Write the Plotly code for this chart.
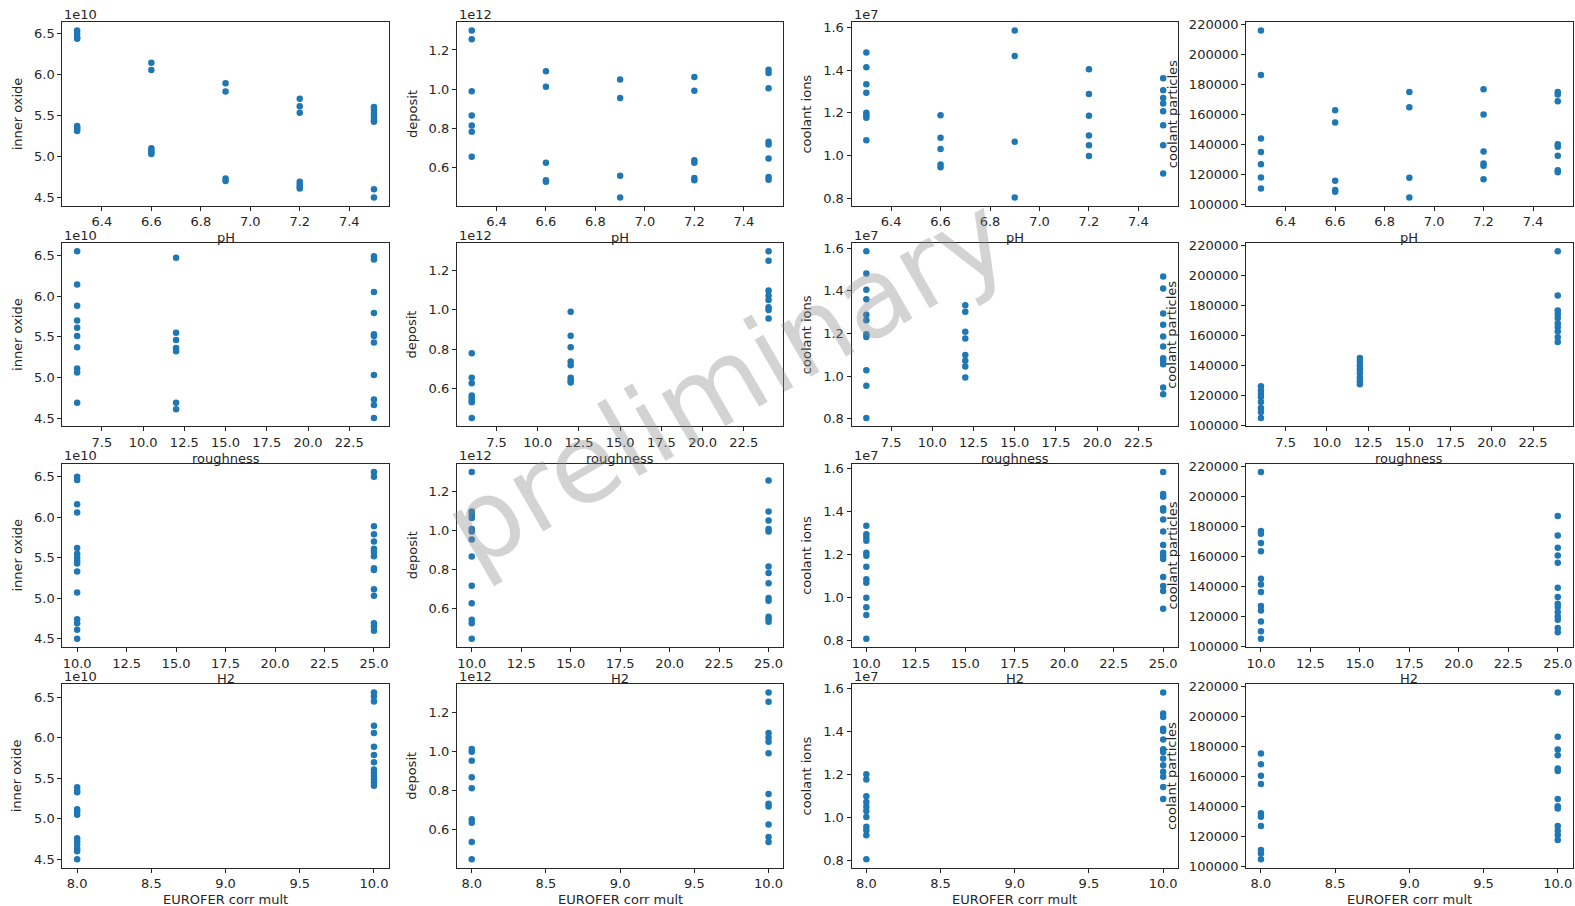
import plotly.graph_objects as go

# ---------------- data ----------------
ph_levels = [6.3, 6.6, 6.9, 7.2, 7.5]
roughness_levels = [6, 12, 24]
h2_levels = [10, 25]
eurofer_levels = [8, 10]

input_names = ["pH", "roughness", "H2", "EUROFER corr mult"]
output_names = ["inner oxide", "deposit", "coolant ions", "coolant particles"]
output_scales = [1e10, 1e12, 1e7, 1]
output_offset_labels = ["1e10", "1e12", "1e7", ""]

# values grouped by the level of the input variable
inner_oxide_by_ph = [
    [6.53e10, 6.49e10, 6.45e10, 6.43e10, 5.37e10, 5.35e10, 5.33e10, 5.31e10],
    [6.14e10, 6.05e10, 5.10e10, 5.07e10, 5.05e10, 5.03e10],
    [5.89e10, 5.79e10, 4.73e10, 4.70e10],
    [5.70e10, 5.61e10, 5.53e10, 4.69e10, 4.66e10, 4.63e10, 4.61e10],
    [5.60e10, 5.57e10, 5.53e10, 5.50e10, 5.47e10, 5.44e10, 5.42e10, 4.60e10, 4.50e10],
]
deposit_by_ph = [
    [1.299e12, 1.255e12, 0.990e12, 0.865e12, 0.814e12, 0.783e12, 0.655e12],
    [1.092e12, 1.012e12, 0.624e12, 0.535e12, 0.527e12],
    [1.050e12, 0.955e12, 0.558e12, 0.447e12],
    [1.062e12, 0.992e12, 0.637e12, 0.624e12, 0.547e12, 0.535e12],
    [1.099e12, 1.082e12, 1.005e12, 0.731e12, 0.718e12, 0.646e12, 0.552e12, 0.538e12],
]
coolant_ions_by_ph = [
    [1.483e7, 1.414e7, 1.334e7, 1.294e7, 1.200e7, 1.189e7, 1.177e7, 1.072e7],
    [1.189e7, 1.083e7, 1.031e7, 0.958e7, 0.945e7],
    [1.586e7, 1.467e7, 1.064e7, 0.803e7],
    [1.405e7, 1.289e7, 1.186e7, 1.094e7, 1.048e7, 0.997e7],
    [1.363e7, 1.306e7, 1.270e7, 1.244e7, 1.208e7, 1.142e7, 1.048e7, 0.916e7],
]
coolant_particles_by_ph = [
    [216200, 186600, 144200, 135300, 127100, 118200, 110900],
    [163100, 154900, 116000, 109800, 108700],
    [175300, 165100, 118000, 104900],
    [177100, 160200, 135600, 127600, 126000, 117100],
    [175300, 173600, 169100, 140400, 138700, 132700, 123100, 121800],
]

inner_oxide_by_roughness = [
    [6.55e10, 6.14e10, 5.88e10, 5.70e10, 5.61e10, 5.51e10, 5.37e10, 5.11e10, 5.06e10, 4.69e10],
    [6.47e10, 5.55e10, 5.46e10, 5.36e10, 5.32e10, 4.69e10, 4.61e10],
    [6.49e10, 6.45e10, 6.05e10, 5.79e10, 5.53e10, 5.51e10, 5.43e10, 5.03e10, 4.73e10, 4.66e10, 4.50e10],
]
deposit_by_roughness = [
    [0.780e12, 0.654e12, 0.627e12, 0.564e12, 0.553e12, 0.539e12, 0.530e12, 0.449e12],
    [0.991e12, 0.868e12, 0.810e12, 0.737e12, 0.718e12, 0.654e12, 0.640e12, 0.630e12],
    [1.299e12, 1.251e12, 1.099e12, 1.073e12, 1.051e12, 1.014e12, 1.000e12, 0.956e12],
]
coolant_ions_by_roughness = [
    [1.586e7, 1.482e7, 1.405e7, 1.361e7, 1.288e7, 1.262e7, 1.197e7, 1.184e7, 1.028e7, 0.955e7, 0.803e7],
    [1.333e7, 1.302e7, 1.208e7, 1.176e7, 1.099e7, 1.072e7, 1.045e7, 0.994e7],
    [1.468e7, 1.411e7, 1.294e7, 1.241e7, 1.186e7, 1.139e7, 1.084e7, 1.072e7, 1.056e7, 0.947e7, 0.915e7],
]
coolant_particles_by_roughness = [
    [126200, 123300, 121000, 118900, 115600, 111600, 108900, 104900],
    [145000, 142500, 140000, 137500, 135000, 132000, 129500, 127500],
    [216200, 186700, 176700, 174400, 171600, 168200, 165600, 162700, 158900, 155600],
]

inner_oxide_by_h2 = [
    [6.50e10, 6.46e10, 6.16e10, 6.06e10, 5.62e10, 5.55e10, 5.50e10, 5.46e10, 5.43e10, 5.33e10,
     5.07e10, 4.74e10, 4.69e10, 4.61e10, 4.50e10],
    [6.56e10, 6.50e10, 5.89e10, 5.79e10, 5.70e10, 5.61e10, 5.57e10, 5.52e10, 5.37e10, 5.35e10,
     5.11e10, 5.03e10, 4.69e10, 4.65e10, 4.60e10],
]
deposit_by_h2 = [
    [1.299e12, 1.096e12, 1.080e12, 1.063e12, 1.007e12, 0.993e12, 0.952e12, 0.865e12, 0.716e12,
     0.626e12, 0.541e12, 0.524e12, 0.444e12],
    [1.255e12, 1.096e12, 1.050e12, 1.007e12, 0.993e12, 0.814e12, 0.781e12, 0.728e12, 0.653e12,
     0.639e12, 0.557e12, 0.545e12, 0.531e12],
]
coolant_ions_by_h2 = [
    [1.332e7, 1.293e7, 1.277e7, 1.262e7, 1.207e7, 1.192e7, 1.141e7, 1.083e7, 1.067e7, 0.997e7,
     0.953e7, 0.916e7, 0.806e7],
    [1.583e7, 1.480e7, 1.467e7, 1.414e7, 1.403e7, 1.361e7, 1.305e7, 1.243e7, 1.207e7, 1.192e7,
     1.177e7, 1.094e7, 1.052e7, 1.028e7, 0.946e7],
]
coolant_particles_by_h2 = [
    [216200, 176700, 174900, 168700, 163300, 144900, 141100, 136000, 126700, 123800, 116400,
     109900, 104900],
    [186700, 173800, 165600, 160400, 155600, 138900, 132700, 128200, 126000, 122700, 119800,
     117600, 112000, 109300],
]

inner_oxide_by_eurofer = [
    [5.39e10, 5.35e10, 5.33e10, 5.12e10, 5.09e10, 5.05e10, 4.76e10, 4.72e10, 4.68e10, 4.63e10,
     4.60e10, 4.50e10],
    [6.56e10, 6.51e10, 6.45e10, 6.15e10, 6.06e10, 5.89e10, 5.79e10, 5.70e10, 5.61e10, 5.57e10,
     5.53e10, 5.49e10, 5.45e10, 5.41e10],
]
deposit_by_eurofer = [
    [1.012e12, 0.998e12, 0.952e12, 0.867e12, 0.810e12, 0.650e12, 0.633e12, 0.533e12, 0.444e12],
    [1.303e12, 1.256e12, 1.094e12, 1.072e12, 1.050e12, 0.991e12, 0.781e12, 0.730e12, 0.716e12,
     0.624e12, 0.559e12, 0.533e12],
]
coolant_ions_by_eurofer = [
    [1.200e7, 1.175e7, 1.097e7, 1.071e7, 1.048e7, 1.028e7, 1.000e7, 0.955e7, 0.939e7, 0.916e7, 0.803e7],
    [1.581e7, 1.483e7, 1.467e7, 1.412e7, 1.402e7, 1.362e7, 1.317e7, 1.304e7, 1.273e7, 1.242e7,
     1.211e7, 1.188e7, 1.140e7, 1.084e7],
]
coolant_particles_by_eurofer = [
    [175600, 168400, 160700, 155100, 135600, 133300, 127100, 111100, 108900, 104900],
    [216200, 186700, 178200, 174400, 165600, 163800, 145100, 140400, 138900, 127100, 124000,
     121100, 117800],
]

x_tick_steps = [0.2, 2.5, 2.5, 0.5]
y_tick_steps = [0.5, 0.2, 0.2, 20000]
y_tick_formats = [".1f", ".1f", ".1f", "d"]

levels_by_input = [ph_levels, roughness_levels, h2_levels, eurofer_levels]
grid = [  # grid[row = input][col = output]
    [inner_oxide_by_ph, deposit_by_ph, coolant_ions_by_ph, coolant_particles_by_ph],
    [inner_oxide_by_roughness, deposit_by_roughness, coolant_ions_by_roughness, coolant_particles_by_roughness],
    [inner_oxide_by_h2, deposit_by_h2, coolant_ions_by_h2, coolant_particles_by_h2],
    [inner_oxide_by_eurofer, deposit_by_eurofer, coolant_ions_by_eurofer, coolant_particles_by_eurofer],
]

# ---------------- layout geometry (pixels) ----------------
W, H = 1575, 906
COL_LEFT0, COL_STEP, PANEL_W = 62.3, 394.6, 326.5
ROW_TOP0, ROW_STEP, PANEL_H = 17.5, 223.6, 186.0
YTITLE_OFFSET = [45, 45, 45, 74]

TEXT = "#262626"
LINE = "#262626"
FONT = "DejaVu Sans"
BLUE = "#1f77b4"


def px(x):
    return x / W


def py(y):
    return 1 - y / H


def padded(vals):
    lo, hi = min(vals), max(vals)
    d = (hi - lo) * 0.05
    return [lo - d, hi + d]


fig = go.Figure()
annotations = []
layout_axes = {}

for r in range(4):
    for c in range(4):
        idx = r * 4 + c + 1
        sfx = "" if idx == 1 else str(idx)
        groups = grid[r][c]
        levels = levels_by_input[r]
        xs, ys = [], []
        for lev, vals in zip(levels, groups):
            for v in vals:
                xs.append(lev)
                ys.append(v / output_scales[c])
        fig.add_trace(go.Scatter(
            x=xs, y=ys, mode="markers", xaxis="x" + sfx, yaxis="y" + sfx,
            marker=dict(size=6.5, color=BLUE, line=dict(width=0)),
            showlegend=False, hoverinfo="x+y",
        ))
        left = COL_LEFT0 + COL_STEP * c
        top = ROW_TOP0 + ROW_STEP * r
        right, bottom = left + PANEL_W, top + PANEL_H
        common = dict(
            showline=True, mirror=True, linecolor=LINE, linewidth=1,
            ticks="outside", ticklen=4, tickwidth=1, tickcolor=LINE,
            showgrid=False, zeroline=False,
            tickfont=dict(family=FONT, size=13, color=TEXT),
        )
        layout_axes["xaxis" + sfx] = dict(
            common, domain=[px(left), px(right)], anchor="y" + sfx,
            range=padded(xs), dtick=x_tick_steps[r], tick0=0, tickformat=".1f",
        )
        layout_axes["yaxis" + sfx] = dict(
            common, domain=[py(bottom), py(top)], anchor="x" + sfx,
            range=padded(ys), dtick=y_tick_steps[c], tick0=0, tickformat=y_tick_formats[c],
        )
        # offset text
        if output_offset_labels[c]:
            annotations.append(dict(
                x=px(left), y=py(top - 8), xref="paper", yref="paper",
                text=output_offset_labels[c], showarrow=False, xanchor="left", yanchor="middle",
                font=dict(family=FONT, size=13, color=TEXT),
            ))
        # y title
        annotations.append(dict(
            x=px(left - YTITLE_OFFSET[c]), y=py((top + bottom) / 2), xref="paper", yref="paper",
            text=output_names[c], showarrow=False, textangle=-90, xanchor="center", yanchor="middle",
            font=dict(family=FONT, size=13, color=TEXT),
        ))
        # x title
        annotations.append(dict(
            x=px((left + right) / 2), y=py(bottom + 32), xref="paper", yref="paper",
            text=input_names[r], showarrow=False, xanchor="center", yanchor="middle",
            font=dict(family=FONT, size=13, color=TEXT),
        ))

# watermark
annotations.append(dict(
    x=px(726), y=py(382), xref="paper", yref="paper", text="preliminary", showarrow=False,
    textangle=-30, xanchor="center", yanchor="middle",
    font=dict(family=FONT, size=110, color="rgba(140,140,140,0.38)"),
))

fig.update_layout(
    width=W, height=H, autosize=False,
    margin=dict(l=0, r=0, t=0, b=0),
    paper_bgcolor="white", plot_bgcolor="white",
    annotations=annotations, showlegend=False,
    **layout_axes,
)

fig.write_html(
    "out.html",
    config={"displayModeBar": False},
    post_script="document.body.style.margin='0px';document.body.style.padding='0px';"
                "document.body.style.overflow='hidden';",
)
